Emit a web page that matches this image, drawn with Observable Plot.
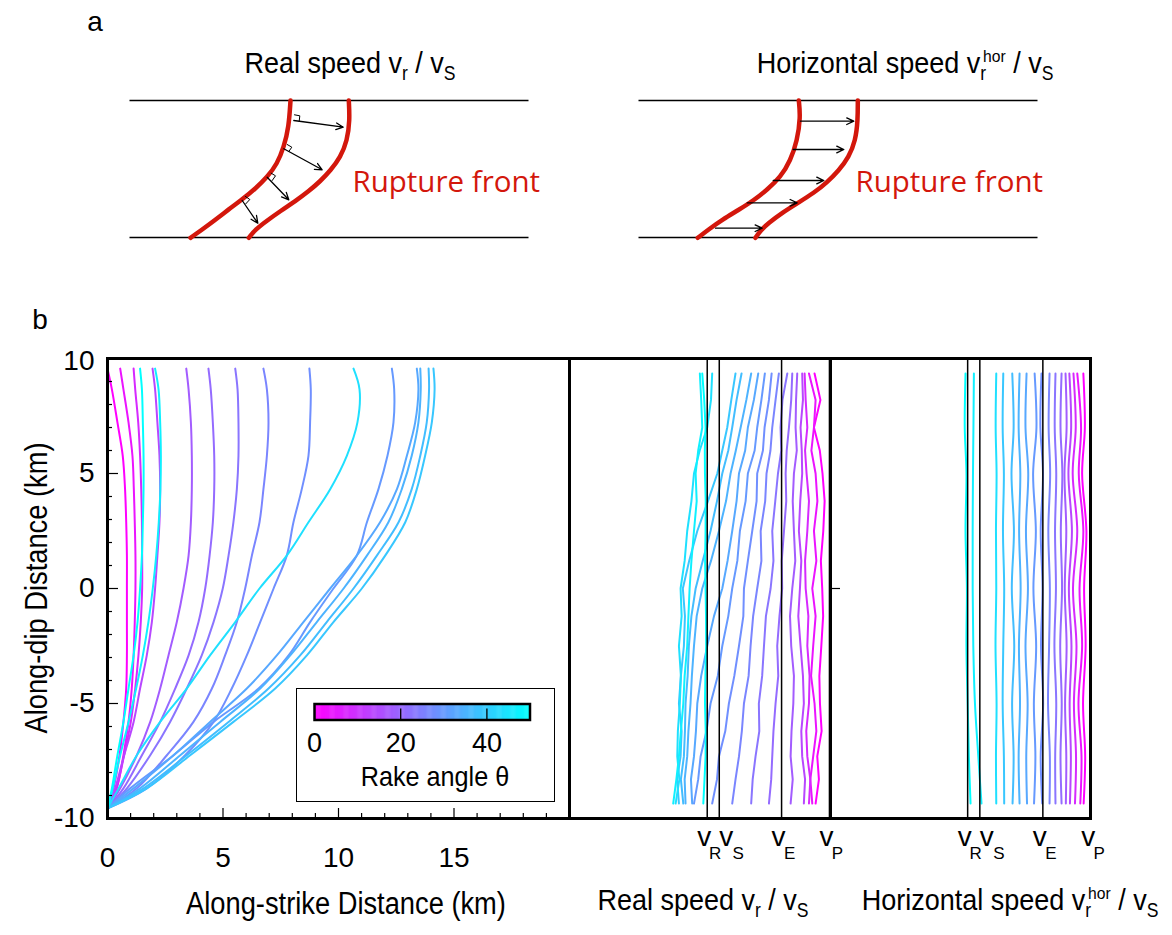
<!DOCTYPE html>
<html><head><meta charset="utf-8">
<script src="https://cdn.jsdelivr.net/npm/d3@7"></script>
<script src="https://cdn.jsdelivr.net/npm/@observablehq/plot@0.6"></script>
<style>
body{margin:0;background:#fff;}
#fig{position:relative;width:1172px;height:935px;overflow:hidden;background:#fff;font-family:"Liberation Sans",Arial,sans-serif;color:#000;}
#fig > svg{position:absolute;left:0;top:0;}
.t{position:absolute;white-space:nowrap;line-height:1;}
.sb{font-size:0.65em;position:relative;top:0.38em;}
.sp{font-size:0.58em;position:relative;top:-0.62em;}
#legend{position:absolute;left:296px;top:688px;width:259px;height:114px;box-sizing:border-box;border:1.5px solid #000;background:#fff;}
#legend svg{position:absolute;left:0;top:0;}
</style></head><body><div id="fig"></div>
<script>
const W = 1172, H = 935;
const FONT = '"Liberation Sans",Arial,sans-serif';
const RED = "#d3170c";
const colorOpts = {type: "linear", domain: [0, 50], range: ["#ff00ff", "#00ffff"], interpolate: "rgb"};

// rake angle of each simulation (colour), same order in all three panels of b
const rakes = [0, 4, 8, 14, 18, 21, 23, 26, 28, 30, 33, 35, 37, 39, 44, 47, 50];

// ---------- panel b, left: rupture fronts (along-strike km) at along-dip depths ----------
const depthLeft = [9.56, 8.66, 7.22, 5.77, 4.32, 2.88, 1.43, 0, -1.46, -2.91, -4.35, -5.8, -7.25, -8.69, -9.56];
const front01 = [0, 0.19, 0.43, 0.66, 0.76, 0.81, 0.84, 0.84, 0.84, 0.84, 0.81, 0.69, 0.52, 0.26, 0];
const front02 = [0.55, 0.69, 0.91, 1.08, 1.14, 1.18, 1.21, 1.21, 1.18, 1.13, 1.05, 0.91, 0.69, 0.4, 0];
const front03 = [1.13, 1.2, 1.33, 1.41, 1.46, 1.49, 1.5, 1.5, 1.44, 1.34, 1.2, 1.01, 0.72, 0.38, 0];
const front04 = [1.95, 2.06, 2.16, 2.25, 2.28, 2.25, 2.16, 2.06, 1.92, 1.7, 1.41, 1.13, 0.72, 0.33, 0];
const front05 = [3.41, 3.51, 3.61, 3.65, 3.65, 3.61, 3.51, 3.29, 3.0, 2.64, 2.28, 1.85, 1.27, 0.55, 0];
const front06 = [4.37, 4.47, 4.56, 4.62, 4.62, 4.56, 4.42, 4.23, 3.94, 3.51, 2.93, 2.28, 1.49, 0.69, 0];
const front07 = [5.53, 5.63, 5.67, 5.67, 5.6, 5.45, 5.24, 4.99, 4.59, 4.08, 3.43, 2.71, 1.85, 0.84, 0];
const front08 = [6.75, 6.9, 6.97, 6.9, 6.75, 6.58, 6.25, 5.96, 5.6, 5.09, 4.52, 3.72, 2.57, 1.27, 0];
const front09 = [8.74, 8.8, 8.77, 8.7, 8.41, 8.05, 7.76, 7.19, 6.61, 6.03, 5.38, 4.59, 3.36, 1.7, 0];
const front10 = [12.31, 12.41, 12.38, 12.12, 11.73, 11.23, 10.79, 9.78, 8.77, 7.84, 6.54, 4.59, 2.86, 0.98, 0];
const front11 = [13.39, 13.46, 13.32, 12.96, 12.53, 11.8, 10.79, 9.64, 8.48, 7.33, 6.03, 4.44, 2.86, 1.13, 0];
const front12 = [13.54, 13.56, 13.46, 13.17, 12.74, 12.16, 11.23, 10.22, 9.06, 7.91, 6.61, 4.88, 3.15, 1.41, 0];
const front13 = [13.9, 13.92, 13.82, 13.54, 13.17, 12.6, 11.66, 10.65, 9.49, 8.34, 6.97, 5.24, 3.43, 1.56, 0];
const front14 = [14.11, 14.16, 14.04, 13.75, 13.39, 12.89, 12.02, 11.01, 9.78, 8.63, 7.26, 5.45, 3.58, 1.7, 0];
const front15 = [10.65, 10.91, 10.82, 10.36, 9.64, 8.7, 7.76, 6.58, 5.53, 4.44, 3.43, 2.28, 1.27, 0.48, 0];
const front16 = [2.06, 2.21, 2.28, 2.31, 2.29, 2.22, 2.11, 1.96, 1.77, 1.53, 1.24, 0.91, 0.55, 0.23, 0];
const front17 = [1.41, 1.49, 1.53, 1.56, 1.56, 1.53, 1.49, 1.41, 1.3, 1.13, 0.91, 0.69, 0.43, 0.19, 0];

// ---------- panel b, middle: real speed vr/vS ----------
const depthReal = [9.35, 8.2, 7, 6, 5, 3.8, 2.5, 1.2, 0, -1.2, -2.5, -3.8, -5, -6.2, -7.3, -8.3, -9.35];
const real01 = [1.633, 1.672, 1.629, 1.668, 1.686, 1.700, 1.691, 1.675, 1.684, 1.690, 1.678, 1.665, 1.669, 1.680, 1.651, 1.662, 1.640];
const real02 = [1.596, 1.640, 1.629, 1.612, 1.640, 1.652, 1.629, 1.645, 1.618, 1.640, 1.624, 1.610, 1.633, 1.645, 1.624, 1.605, 1.618];
const real03 = [1.567, 1.574, 1.585, 1.570, 1.580, 1.596, 1.585, 1.570, 1.574, 1.592, 1.585, 1.600, 1.596, 1.578, 1.585, 1.605, 1.596];
const real04 = [1.551, 1.556, 1.540, 1.548, 1.551, 1.538, 1.529, 1.545, 1.536, 1.525, 1.540, 1.556, 1.562, 1.545, 1.551, 1.570, 1.562];
const real05 = [1.518, 1.510, 1.507, 1.515, 1.496, 1.488, 1.496, 1.505, 1.485, 1.470, 1.478, 1.496, 1.492, 1.480, 1.474, 1.488, 1.474];
const real06 = [1.485, 1.478, 1.463, 1.448, 1.441, 1.445, 1.430, 1.415, 1.418, 1.400, 1.385, 1.392, 1.374, 1.360, 1.352, 1.345, 1.330];
const real07 = [1.452, 1.420, 1.407, 1.412, 1.390, 1.372, 1.352, 1.360, 1.341, 1.310, 1.297, 1.285, 1.263, 1.266, 1.241, 1.222, 1.212];
const real08 = [1.396, 1.374, 1.352, 1.340, 1.314, 1.305, 1.275, 1.280, 1.252, 1.225, 1.208, 1.195, 1.164, 1.150, 1.131, 1.108, 1.086];
const real09 = [1.348, 1.330, 1.301, 1.290, 1.252, 1.248, 1.219, 1.190, 1.164, 1.160, 1.131, 1.100, 1.064, 1.040, 0.998, 0.985, 0.953];
const real10 = [1.303, 1.280, 1.252, 1.235, 1.190, 1.175, 1.137, 1.120, 1.086, 1.060, 1.020, 0.990, 0.942, 0.915, 0.876, 0.860, 0.832];
const real11 = [1.259, 1.230, 1.190, 1.172, 1.131, 1.115, 1.086, 1.055, 1.020, 0.965, 0.920, 0.880, 0.854, 0.845, 0.832, 0.812, 0.820];
const real12 = [1.212, 1.180, 1.142, 1.110, 1.075, 1.045, 0.998, 0.945, 0.887, 0.850, 0.832, 0.818, 0.809, 0.795, 0.787, 0.770, 0.776];
const real13 = [1.148, 1.115, 1.086, 1.060, 1.020, 0.985, 0.942, 0.890, 0.843, 0.815, 0.798, 0.790, 0.776, 0.772, 0.765, 0.745, 0.761];
const real14 = [1.108, 1.080, 1.053, 1.020, 0.987, 0.925, 0.854, 0.800, 0.758, 0.772, 0.765, 0.745, 0.732, 0.750, 0.743, 0.720, 0.732];
const real15 = [0.953, 0.945, 0.920, 0.870, 0.832, 0.815, 0.787, 0.770, 0.743, 0.750, 0.732, 0.745, 0.738, 0.725, 0.721, 0.735, 0.710];
const real16 = [0.871, 0.880, 0.887, 0.860, 0.843, 0.850, 0.832, 0.815, 0.803, 0.795, 0.787, 0.770, 0.761, 0.745, 0.732, 0.715, 0.694];
const real17 = [0.887, 0.900, 0.909, 0.904, 0.905, 0.910, 0.909, 0.906, 0.909, 0.912, 0.913, 0.908, 0.905, 0.910, 0.909, 0.902, 0.894];

// ---------- panel b, right: horizontal speed vr_hor/vS ----------
const depthHor = [9.35, 7, 5, 2.5, 0, -2.5, -5, -7.3, -9.35];
const hor01 = [1.680, 1.690, 1.672, 1.700, 1.685, 1.695, 1.678, 1.692, 1.682];
const hor02 = [1.640, 1.665, 1.650, 1.680, 1.655, 1.672, 1.648, 1.668, 1.660];
const hor03 = [1.615, 1.630, 1.610, 1.640, 1.612, 1.635, 1.618, 1.632, 1.625];
const hor04 = [1.588, 1.600, 1.582, 1.605, 1.585, 1.602, 1.590, 1.598, 1.592];
const hor05 = [1.563, 1.570, 1.556, 1.568, 1.558, 1.570, 1.560, 1.568, 1.565];
const hor06 = [1.537, 1.530, 1.542, 1.532, 1.540, 1.528, 1.538, 1.530, 1.537];
const hor07 = [1.497, 1.492, 1.502, 1.494, 1.500, 1.490, 1.502, 1.495, 1.497];
const hor08 = [1.458, 1.452, 1.462, 1.450, 1.460, 1.455, 1.448, 1.460, 1.458];
const hor09 = [1.405, 1.398, 1.415, 1.400, 1.412, 1.402, 1.416, 1.400, 1.410];
const hor10 = [1.360, 1.372, 1.350, 1.368, 1.352, 1.370, 1.355, 1.365, 1.356];
const hor11 = [1.307, 1.300, 1.318, 1.303, 1.316, 1.300, 1.314, 1.305, 1.310];
const hor12 = [1.261, 1.255, 1.266, 1.258, 1.268, 1.257, 1.264, 1.255, 1.261];
const hor13 = [1.213, 1.222, 1.208, 1.224, 1.210, 1.226, 1.212, 1.222, 1.215];
const hor14 = [1.154, 1.150, 1.158, 1.152, 1.160, 1.154, 1.150, 1.158, 1.160];
const hor15 = [1.108, 1.104, 1.110, 1.106, 1.108, 1.103, 1.110, 1.106, 1.108];
const hor16 = [0.961, 0.958, 0.955, 0.953, 0.953, 0.957, 0.968, 0.990, 1.011];
const hor17 = [0.906, 0.901, 0.912, 0.906, 0.915, 0.912, 0.920, 0.928, 0.939];

const frontSeries = [front01, front02, front03, front04, front05, front06, front07, front08, front09, front10, front11, front12, front13, front14, front15, front16, front17];
const realSeries = [real01, real02, real03, real04, real05, real06, real07, real08, real09, real10, real11, real12, real13, real14, real15, real16, real17];
const horSeries = [hor01, hor02, hor03, hor04, hor05, hor06, hor07, hor08, hor09, hor10, hor11, hor12, hor13, hor14, hor15, hor16, hor17];

// reference wave speeds (ratio to vS)
const waveNames = ["R", "S", "E", "P"];
const waveValues = [0.92, 1.0, 1.414, 1.732];

// axis ticks
const xMinorTicks = [1, 2, 3, 4, 6, 7, 8, 9, 11, 12, 13, 14, 16, 17, 18, 19];
const xMajorTicks = [5, 10, 15];
const xTickLabels = [0, 5, 10, 15];
const yMinorTicks = [-9, -8, -7, -6, -4, -3, -2, -1, 1, 2, 3, 4, 6, 7, 8, 9];
const yMajorTicks = [-5, 0, 5];
const yTickLabels = [5, 0, -5, -10];
const yTopLabel = [10];
const legendTicks = [20, 40];
const legendLabels = [0, 20, 40];

// ---------- panel a: schematic geometry (drawing units) ----------
const faultLines = [
  {x1: 129, x2: 528, y: 100}, {x1: 129, x2: 528, y: 237},
  {x1: 638, x2: 1037, y: 100}, {x1: 638, x2: 1037, y: 237}
];
const frontRealBack = [[290,100],[288.3,126.7],[283.3,146.7],[276.7,163.3],[266.7,176.7],[255,188],[241.7,199],[228,209],[214,220],[201,229.5],[190,237.3]];
const frontRealAhead = [[348.3,100],[349.3,120],[346.7,140],[340,156.7],[330,170],[320,180.5],[308,191],[295,200.5],[280,210.5],[266,220.5],[255,229],[248.3,237.3]];
const frontHorBack = [[798.3,100],[800,116.7],[796.7,140],[790,160],[780,176.7],[767,189],[753,200],[738,209.5],[722,219],[708,229],[697.3,237.3]];
const frontHorAhead = [[857.3,100],[857.3,120],[855,140],[848.3,156.7],[838.3,170],[826.7,181.7],[813.3,192.5],[798,202],[782,212],[768,222.5],[760,230],[755,237.3]];
const arrowsReal = [[293.3,120,342.7,126.7],[283.3,148.3,321.7,169.3],[266.7,176.7,288.3,199.3],[241.7,200,257.3,222.7]];
const arrowsHor = [[800,120.7,853.3,120.7],[792.7,149,843.3,149],[772.7,180,823.3,180],[746.7,202.3,796.7,202.3],[715,227.7,761.7,227.7]];
const rightAngleMarks = [
  [[294,114.3],[299.3,115.3],[298.7,120.7]],
  [[286.7,144],[291.3,146.7],[288.3,151]],
  [[270.7,172.7],[275,175.3],[271.7,180]],
  [[245,196],[249.3,199],[245.3,203.3]]
];
const ruptureLabels = [{x: 352, y: 182, text: "Rupture front"}, {x: 855, y: 182, text: "Rupture front"}];

// ---------- build tables ----------
const toTable = (series, depths) => series.flatMap((vals, k) => vals.map((v, i) => ({rake: rakes[k], v, depth: depths[i]})));
const leftData = toTable(frontSeries, depthLeft);
const realData = toTable(realSeries, depthReal);
const horData = toTable(horSeries, depthHor);
const waves = waveNames.map((name, i) => ({name, v: waveValues[i]}));
const fronts = [frontRealBack, frontRealAhead, frontHorBack, frontHorAhead].flatMap((pts, id) => pts.map(([x, y]) => ({id, x, y})));
const marks = rightAngleMarks.flatMap((pts, id) => pts.map(([x, y]) => ({id, x, y})));
const arrows = [...arrowsReal, ...arrowsHor].map(([x1, y1, x2, y2]) => ({x1, y1, x2, y2}));

const fig = document.getElementById("fig");
const baseStyle = {background: "transparent", fontFamily: FONT, fontSize: "28px", color: "black", overflow: "visible"};
const fmt = d => String(d);

// left panel
const PL = {left: 107, right: 569, top: 358, bottom: 818};
const leftPlot = Plot.plot({
  width: W, height: H,
  marginLeft: PL.left, marginRight: W - PL.right, marginTop: PL.top, marginBottom: H - PL.bottom,
  style: baseStyle,
  x: {domain: [0, 20], label: null},
  y: {domain: [-10, 10], label: null},
  color: colorOpts,
  marks: [
    Plot.line(leftData, {x: "v", y: "depth", z: "rake", stroke: "rake", strokeWidth: 2, curve: "catmull-rom"}),
    Plot.tickX(xMinorTicks, {x: d => d, insetTop: (PL.bottom - PL.top) - 5, strokeWidth: 1.2}),
    Plot.tickX(xMajorTicks, {x: d => d, insetTop: (PL.bottom - PL.top) - 10, strokeWidth: 1.2}),
    Plot.tickY(yMinorTicks, {y: d => d, insetRight: (PL.right - PL.left) - 5, strokeWidth: 1.2}),
    Plot.tickY(yMajorTicks, {y: d => d, insetRight: (PL.right - PL.left) - 11, strokeWidth: 1.2}),
    Plot.axisX(xTickLabels, {tickSize: 0, tickPadding: 29, fontSize: 28, tickFormat: fmt, label: null}),
    Plot.axisY(yTickLabels, {tickSize: 0, tickPadding: 13, fontSize: 28, tickFormat: fmt, label: null}),
    Plot.axisY(yTopLabel, {tickSize: 0, tickPadding: 13, fontSize: 28, tickFormat: fmt, label: null, dy: 3}),
    Plot.frame({strokeWidth: 3})
  ]
});
fig.appendChild(leftPlot);

function speedPanel(data, depthCurve, left, right, xdom, extra) {
  return Plot.plot({
    width: W, height: H,
    marginLeft: left, marginRight: W - right, marginTop: PL.top, marginBottom: H - PL.bottom,
    style: baseStyle,
    x: {domain: xdom, axis: null},
    y: {domain: [-10, 10], axis: null},
    color: colorOpts,
    marks: [
      Plot.line(data, {x: "v", y: "depth", z: "rake", stroke: "rake", strokeWidth: 2, curve: depthCurve}),
      Plot.ruleX(waves, {x: "v", strokeWidth: 1.5}),
      Plot.text(waves.filter(d => d.name !== "S"), {x: "v", text: () => "v", frameAnchor: "bottom", dy: 27, dx: -3, fontSize: 28}),
      Plot.text(waves.filter(d => d.name !== "S"), {x: "v", text: "name", frameAnchor: "bottom", dy: 40, dx: 8, fontSize: 17}),
      Plot.text(waves.filter(d => d.name === "S"), {x: "v", text: () => "v", frameAnchor: "bottom", dy: 27, dx: 7, fontSize: 28}),
      Plot.text(waves.filter(d => d.name === "S"), {x: "v", text: "name", frameAnchor: "bottom", dy: 40, dx: 19, fontSize: 17}),
      ...extra,
      Plot.frame({strokeWidth: 3})
    ]
  });
}
fig.appendChild(speedPanel(realData, "linear", 569, 830, [0.005, 1.739], []));
fig.appendChild(speedPanel(horData, "catmull-rom", 830, 1090, [0.019, 1.727], [
  Plot.tickY([0], {y: d => d, insetRight: (1090 - 830) - 10, strokeWidth: 1.2})
]));

// panel a schematic
const panelA = Plot.plot({
  width: W, height: 260, margin: 0,
  style: baseStyle,
  x: {domain: [0, W], axis: null},
  y: {domain: [0, 260], reverse: true, axis: null},
  marks: [
    Plot.link(faultLines, {x1: "x1", x2: "x2", y1: "y", y2: "y", stroke: "black", strokeWidth: 1.6}),
    Plot.line(fronts, {x: "x", y: "y", z: "id", stroke: RED, strokeWidth: 4.5, curve: "basis"}),
    Plot.arrow(arrows, {x1: "x1", y1: "y1", x2: "x2", y2: "y2", stroke: "black", strokeWidth: 1.3, headLength: 9, headAngle: 50}),
    Plot.line(marks, {x: "x", y: "y", z: "id", stroke: "black", strokeWidth: 1}),
    Plot.text(ruptureLabels, {x: "x", y: "y", text: "text", textAnchor: "start", fill: RED, fontSize: 29.5, fontFamily: "Open Sans"})
  ]
});
fig.appendChild(panelA);

// legend (colour bar)
const legend = document.createElement("div");
legend.id = "legend";
const legendPlot = Plot.plot({
  width: 256, height: 111,
  marginLeft: 17, marginRight: 23.5, marginTop: 14.5, marginBottom: 80.5,
  style: baseStyle,
  x: {domain: [0, 50], label: null},
  color: colorOpts,
  marks: [
    Plot.barX(d3.range(0, 50, 0.25), {x1: d => d, x2: d => d + 0.35, fill: d => d + 0.125}),
    Plot.tickX(legendTicks, {x: d => d, insetTop: 5, strokeWidth: 1.3}),
    Plot.frame({strokeWidth: 2.5}),
    Plot.axisX(legendLabels, {tickSize: 0, tickPadding: 13, fontSize: 27, tickFormat: fmt, label: null})
  ]
});
legend.appendChild(legendPlot);
fig.appendChild(legend);

// text overlays (condensed like the original figure lettering)
const texts = [
  {x: 95, y: 22, html: "a", size: 28, sx: 1},
  {x: 40, y: 320, html: "b", size: 28, sx: 1},
  {x: 350, y: 63, html: 'Real speed v<span class="sb">r</span> / v<span class="sb">S</span>', size: 30, sx: 0.9},
  {x: 905, y: 63, html: 'Horizontal speed v<span class="sb">r</span><span class="sp" style="margin-left:-0.2em">hor</span> / v<span class="sb">S</span>', size: 30, sx: 0.9},
  {x: 435, y: 777, html: "Rake angle θ", size: 28, sx: 0.9},
  {x: 346, y: 903, html: "Along-strike Distance (km)", size: 31, sx: 0.88},
  {x: 703, y: 900, html: 'Real speed v<span class="sb">r</span> / v<span class="sb">S</span>', size: 30, sx: 0.9},
  {x: 1010, y: 900, html: 'Horizontal speed v<span class="sb">r</span><span class="sp" style="margin-left:-0.2em">hor</span> / v<span class="sb">S</span>', size: 30, sx: 0.9},
  {x: 36, y: 588, html: "Along-dip Distance (km)", size: 31, sx: 0.88, rotate: true}
];
for (const t of texts) {
  const d = document.createElement("div");
  d.className = "t";
  d.innerHTML = t.html;
  d.style.left = t.x + "px";
  d.style.top = t.y + "px";
  d.style.fontSize = t.size + "px";
  d.style.transform = `translate(-50%,-50%)${t.rotate ? " rotate(-90deg)" : ""} scaleX(${t.sx})`;
  fig.appendChild(d);
}
</script></body></html>
